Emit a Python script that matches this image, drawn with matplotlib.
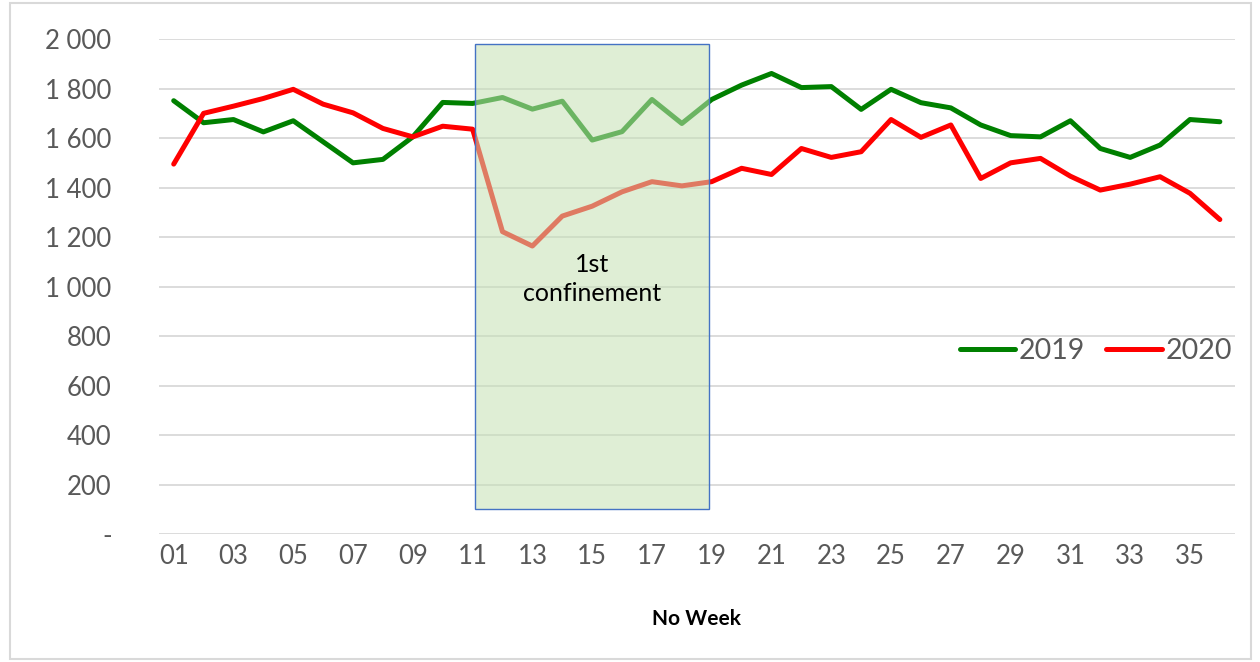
import matplotlib.pyplot as plt
from matplotlib.patches import Rectangle
from matplotlib.ticker import FuncFormatter

plt.rcParams['font.family'] = ['Lato', 'DejaVu Sans']

weeks = list(range(1, 37))
y2019 = [1751, 1662, 1675, 1625, 1670, 1585, 1500, 1514, 1605, 1744,
         1740, 1764, 1717, 1749, 1592, 1626, 1756, 1659, 1756, 1814,
         1861, 1804, 1808, 1716, 1797, 1743, 1722, 1653, 1610, 1605,
         1670, 1558, 1522, 1572, 1675, 1666]
y2020 = [1495, 1700, 1729, 1760, 1797, 1737, 1702, 1639, 1605, 1648,
         1636, 1222, 1164, 1285, 1325, 1383, 1424, 1407, 1424, 1478,
         1453, 1558, 1522, 1545, 1675, 1603, 1653, 1437, 1500, 1518,
         1446, 1390, 1414, 1444, 1377, 1271]
tick_weeks = list(range(1, 37, 2))
tick_labels = ['%02d' % w for w in tick_weeks]

fig = plt.figure(figsize=(12.6, 6.62), dpi=100)
ax = fig.add_axes([0.126, 0.193, 0.854, 0.748])

ax.plot(weeks, y2019, color='#008000', lw=3.6, label='2019', solid_capstyle='round')
ax.plot(weeks, y2020, color='#ff0000', lw=3.6, label='2020', solid_capstyle='round')

# confinement box
ax.add_patch(Rectangle((11.08, 100), 7.82, 1880, facecolor='#c5e0b4', alpha=0.55,
                       edgecolor='none', zorder=3))
ax.add_patch(Rectangle((11.08, 100), 7.82, 1880, facecolor='none',
                       edgecolor='#4472c4', lw=1.0, zorder=4))
ax.text(15, 1030, '1st\nconfinement', ha='center', va='center', fontsize=18,
        color='black', linespacing=1.3, zorder=5)

ax.set_xlim(0.5, 36.5)
ax.set_ylim(0, 2000)
ax.set_yticks(range(0, 2001, 200))
ax.yaxis.set_major_formatter(FuncFormatter(
    lambda v, p: '-' if v == 0 else '{:,.0f}'.format(v).replace(',', ' ')))
ax.set_xticks(tick_weeks)
ax.set_xticklabels(tick_labels)
ax.tick_params(length=0, labelsize=18.5, labelcolor='#595959')
ax.tick_params(axis='y', pad=34)
ax.tick_params(axis='x', pad=7)
ax.grid(axis='y', color='#d9d9d9', lw=1.3)
ax.set_axisbelow(True)
for s in ax.spines.values():
    s.set_visible(False)

ax.set_xlabel('No Week', fontsize=15, fontweight='bold', labelpad=29)

ax.legend(loc='center right', bbox_to_anchor=(1.021, 0.37), frameon=False,
          ncol=2, fontsize=20.5, handlelength=1.95, columnspacing=0.75,
          handletextpad=0.12, labelcolor='#595959')

fig.patches.append(Rectangle((0.008, 0.005), 0.985, 0.99, transform=fig.transFigure,
                             facecolor='none', edgecolor='#d9d9d9', lw=1.5))

fig.savefig('out.png', dpi=100)
